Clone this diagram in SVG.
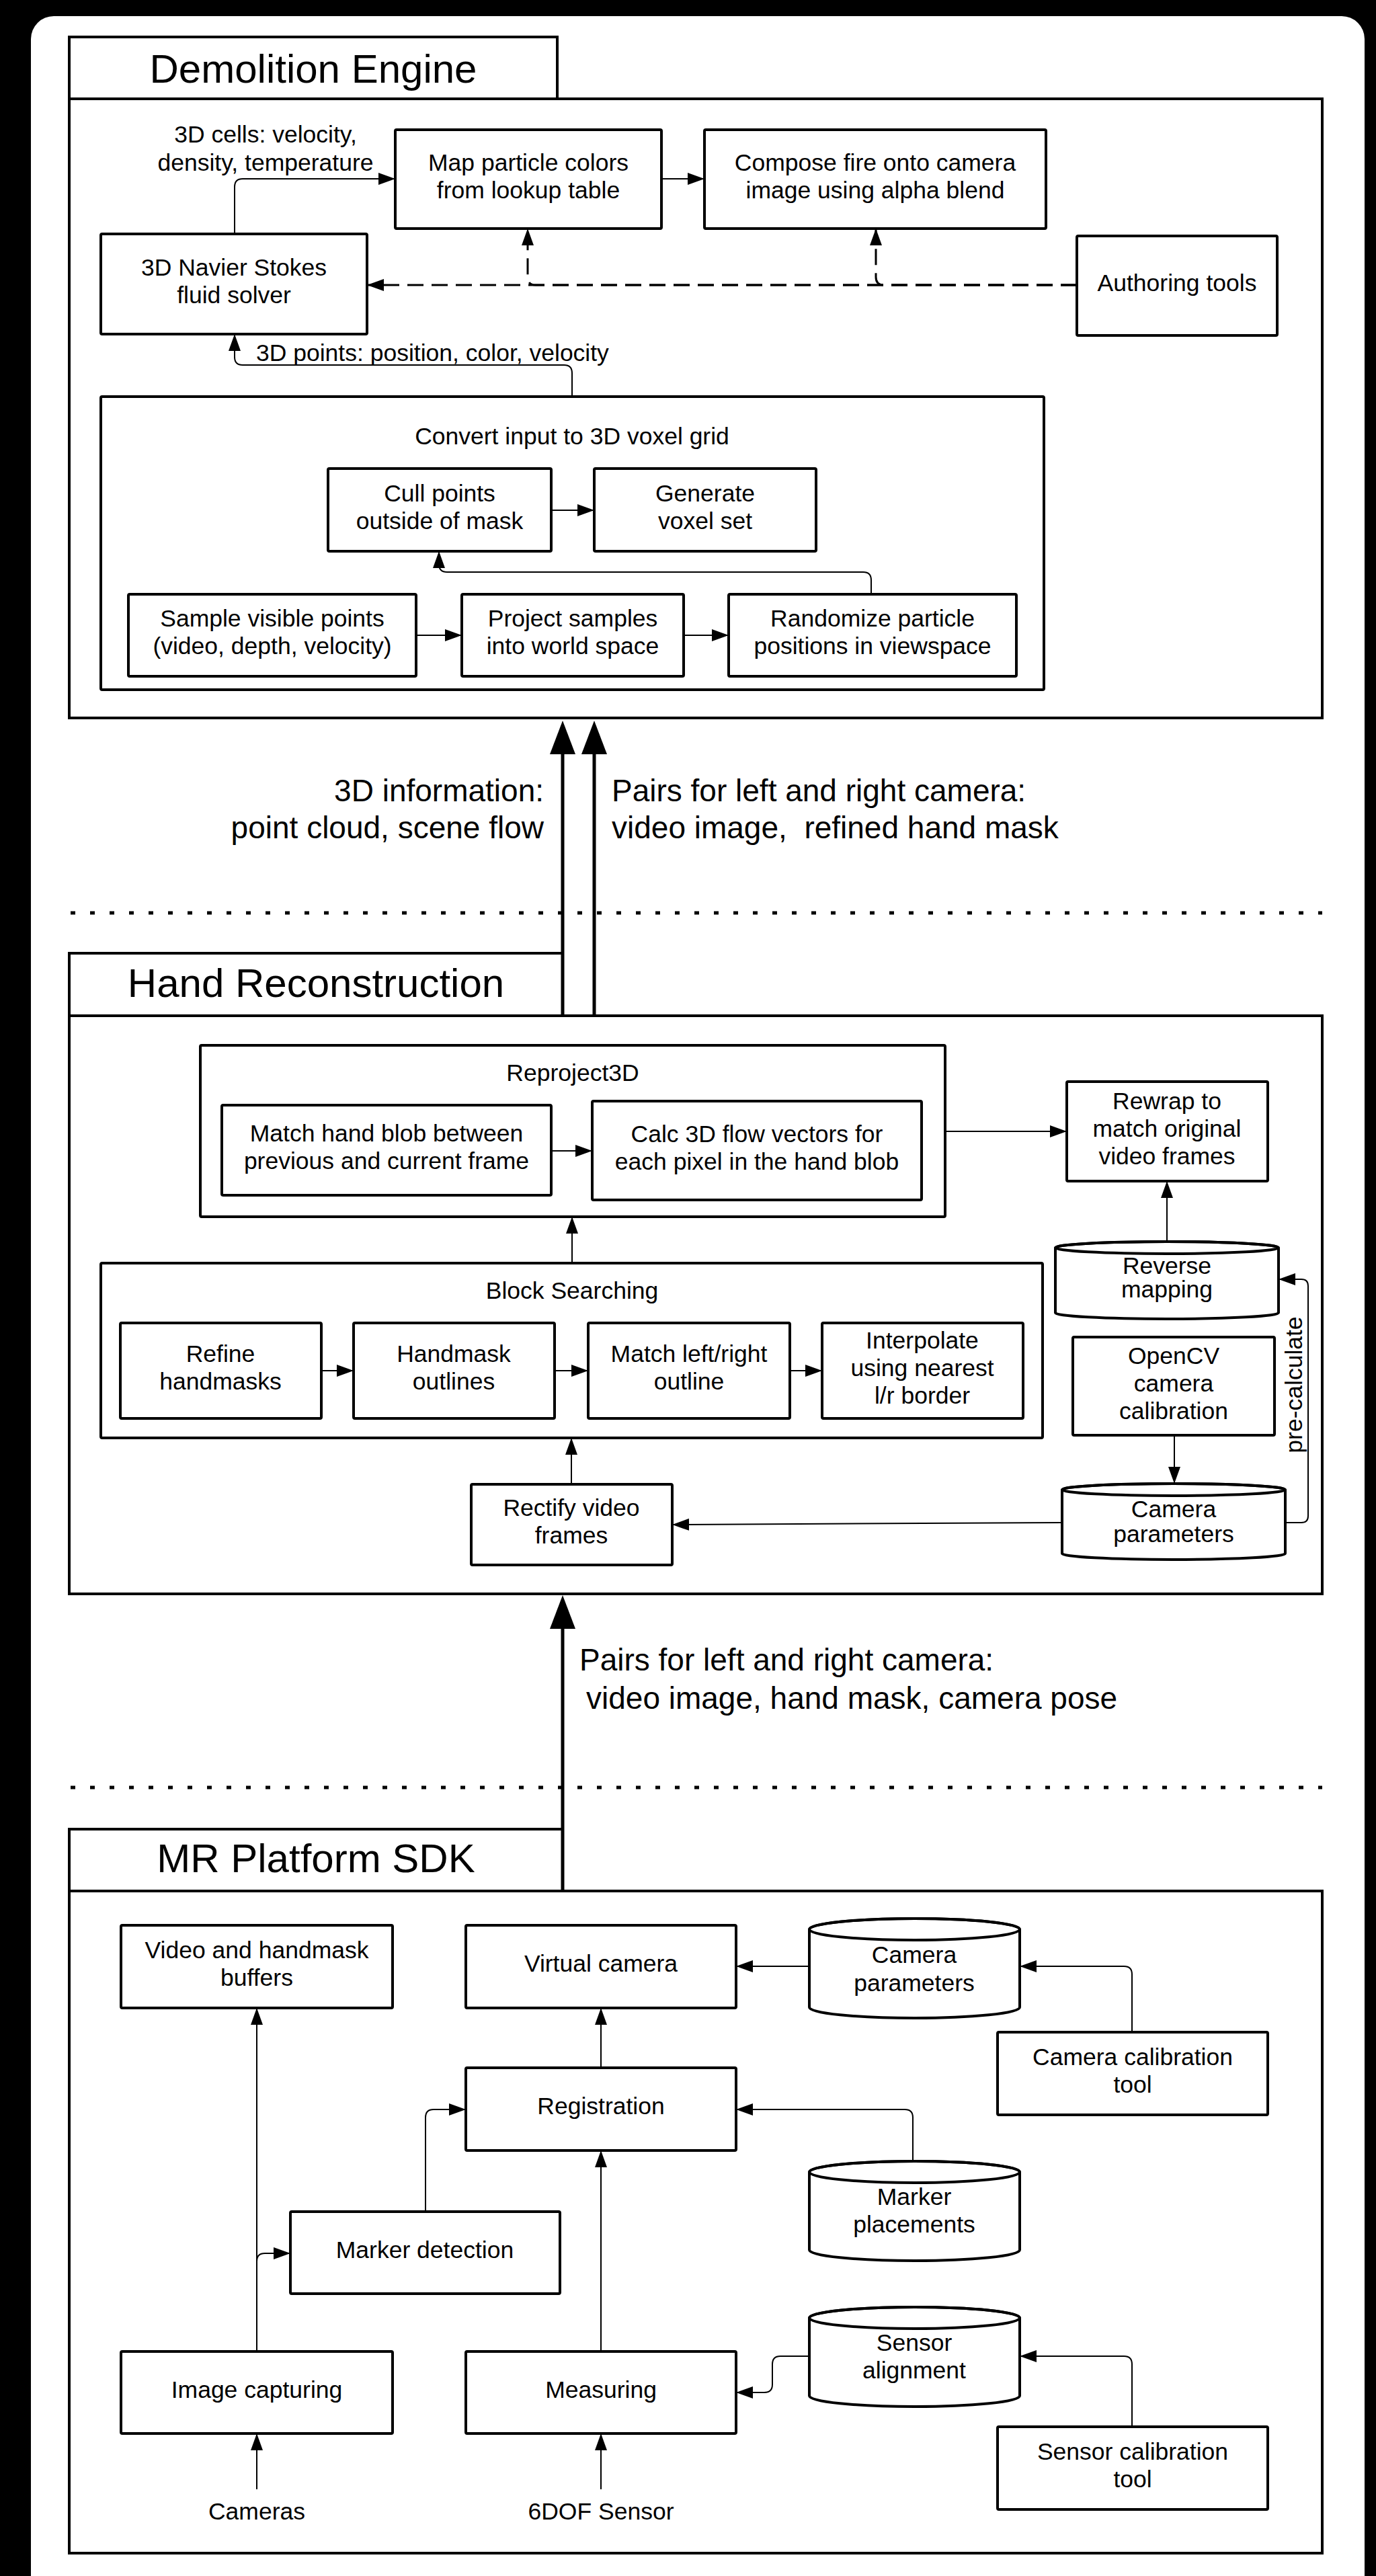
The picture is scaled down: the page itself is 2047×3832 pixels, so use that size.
<svg xmlns="http://www.w3.org/2000/svg" width="2047" height="3832" viewBox="0 0 2047 3832">
<defs>
<style>
.box{fill:#fff;stroke:#000;stroke-width:4}
.sec{fill:#fff;stroke:#000;stroke-width:4}
.t{font-family:"Liberation Sans",Arial,Helvetica,sans-serif;font-size:35.5px;text-anchor:middle;fill:#000}
.s{text-anchor:start}
.e{text-anchor:end}
.title{font-size:60px}
.lbl{font-size:46px}
.c{fill:none;stroke:#000;stroke-width:2}
.dash{stroke-dasharray:24 12;stroke-width:3}
.big{fill:none;stroke:#000;stroke-width:5}
.dot{fill:none;stroke:#000;stroke-width:5;stroke-dasharray:7 22}
</style>
<marker id="ah" markerWidth="25" markerHeight="18" refX="25" refY="9" orient="auto" markerUnits="userSpaceOnUse"><path d="M0,0 L25,9 L0,18 Z" fill="#000"/></marker>
<marker id="bh" markerWidth="50" markerHeight="38" refX="40" refY="19" orient="auto" markerUnits="userSpaceOnUse"><path d="M0,0 L50,19 L0,38 Z" fill="#000"/></marker>
</defs>
<rect x="0" y="0" width="2047" height="3832" fill="#000"/>
<rect x="46" y="24" width="1984" height="3900" rx="34" fill="#fff"/>

<!-- Sections -->
<g id="demolition-engine">
<rect class="sec" x="103" y="55" width="726" height="92"/>
<rect class="sec" x="103" y="147" width="1864" height="921"/>
<text class="t title" x="466" y="123">Demolition Engine</text>
</g>
<g id="hand-reconstruction">
<rect class="sec" x="103" y="1418" width="734" height="93"/>
<rect class="sec" x="103" y="1511" width="1864" height="860"/>
<text class="t title" x="470" y="1483">Hand Reconstruction</text>
</g>
<g id="mr-platform-sdk">
<rect class="sec" x="103" y="2721" width="734" height="92"/>
<rect class="sec" x="103" y="2813" width="1864" height="985"/>
<text class="t title" x="470" y="2785">MR Platform SDK</text>
</g>

<g id="separators">
<path class="dot" d="M105,1358 L1967,1358"/>
<path class="dot" d="M105,2659 L1967,2659"/>
</g>

<!-- Demolition nodes -->
<g id="map-colors"><rect class="box" x="588" y="193" width="396" height="147" rx="2"/><text class="t"><tspan x="786" y="254">Map particle colors</tspan><tspan x="786" y="295">from lookup table</tspan></text></g>
<g id="compose-fire"><rect class="box" x="1048" y="193" width="508" height="147" rx="2"/><text class="t"><tspan x="1302" y="254">Compose fire onto camera</tspan><tspan x="1302" y="295">image using alpha blend</tspan></text></g>
<g id="navier-stokes"><rect class="box" x="150" y="348" width="396" height="149" rx="2"/><text class="t"><tspan x="348" y="410">3D Navier Stokes</tspan><tspan x="348" y="451">fluid solver</tspan></text></g>
<g id="authoring-tools"><rect class="box" x="1602" y="351" width="298" height="148" rx="2"/><text class="t" x="1751" y="433">Authoring tools</text></g>
<g id="convert-voxel"><rect class="box" x="150" y="590" width="1403" height="436" rx="2"/><text class="t" x="851" y="661">Convert input to 3D voxel grid</text></g>
<g id="cull-points"><rect class="box" x="488" y="697" width="332" height="123" rx="2"/><text class="t"><tspan x="654" y="746">Cull points</tspan><tspan x="654" y="787">outside of mask</tspan></text></g>
<g id="generate-voxel"><rect class="box" x="884" y="697" width="330" height="123" rx="2"/><text class="t"><tspan x="1049" y="746">Generate</tspan><tspan x="1049" y="787">voxel set</tspan></text></g>
<g id="sample-points"><rect class="box" x="191" y="884" width="428" height="122" rx="2"/><text class="t"><tspan x="405" y="932">Sample visible points</tspan><tspan x="405" y="973">(video, depth, velocity)</tspan></text></g>
<g id="project-samples"><rect class="box" x="687" y="884" width="330" height="122" rx="2"/><text class="t"><tspan x="852" y="932">Project samples</tspan><tspan x="852" y="973">into world space</tspan></text></g>
<g id="randomize-particles"><rect class="box" x="1084" y="884" width="428" height="122" rx="2"/><text class="t"><tspan x="1298" y="932">Randomize particle</tspan><tspan x="1298" y="973">positions in viewspace</tspan></text></g>

<!-- Hand nodes -->
<g id="reproject3d"><rect class="box" x="298" y="1555" width="1108" height="255" rx="2"/><text class="t" x="852" y="1608">Reproject3D</text></g>
<g id="match-blob"><rect class="box" x="330" y="1644" width="490" height="134" rx="2"/><text class="t"><tspan x="575" y="1698">Match hand blob between</tspan><tspan x="575" y="1739">previous and current frame</tspan></text></g>
<g id="calc-flow"><rect class="box" x="881" y="1638" width="490" height="147" rx="2"/><text class="t"><tspan x="1126" y="1699">Calc 3D flow vectors for</tspan><tspan x="1126" y="1740">each pixel in the hand blob</tspan></text></g>
<g id="rewrap"><rect class="box" x="1587" y="1609" width="299" height="148" rx="2"/><text class="t"><tspan x="1736" y="1650">Rewrap to</tspan><tspan x="1736" y="1691">match original</tspan><tspan x="1736" y="1732">video frames</tspan></text></g>
<g id="reverse-mapping"><path class="box" d="M1570,1856 L1570,1953 A166,9 0 0 0 1902,1953 L1902,1856 A166,9 0 0 0 1570,1856 Z"/><ellipse cx="1736" cy="1856" rx="166" ry="9" fill="none" stroke="#000" stroke-width="4"/><text class="t"><tspan x="1736" y="1895">Reverse</tspan><tspan x="1736" y="1930">mapping</tspan></text></g>
<g id="block-searching"><rect class="box" x="150" y="1879" width="1401" height="260" rx="2"/><text class="t" x="851" y="1932">Block Searching</text></g>
<g id="refine-handmasks"><rect class="box" x="179" y="1968" width="299" height="142" rx="2"/><text class="t"><tspan x="328" y="2026">Refine</tspan><tspan x="328" y="2067">handmasks</tspan></text></g>
<g id="handmask-outlines"><rect class="box" x="526" y="1968" width="299" height="142" rx="2"/><text class="t"><tspan x="675" y="2026">Handmask</tspan><tspan x="675" y="2067">outlines</tspan></text></g>
<g id="match-outline"><rect class="box" x="875" y="1968" width="300" height="142" rx="2"/><text class="t"><tspan x="1025" y="2026">Match left/right</tspan><tspan x="1025" y="2067">outline</tspan></text></g>
<g id="interpolate"><rect class="box" x="1223" y="1968" width="299" height="142" rx="2"/><text class="t"><tspan x="1372" y="2006">Interpolate</tspan><tspan x="1372" y="2047">using nearest</tspan><tspan x="1372" y="2088">l/r border</tspan></text></g>
<g id="opencv-calibration"><rect class="box" x="1596" y="1989" width="300" height="146" rx="2"/><text class="t"><tspan x="1746" y="2029">OpenCV</tspan><tspan x="1746" y="2070">camera</tspan><tspan x="1746" y="2111">calibration</tspan></text></g>
<g id="hr-camera-parameters"><path class="box" d="M1580,2216 L1580,2311 A166,9 0 0 0 1912,2311 L1912,2216 A166,9 0 0 0 1580,2216 Z"/><ellipse cx="1746" cy="2216" rx="166" ry="9" fill="none" stroke="#000" stroke-width="4"/><text class="t"><tspan x="1746" y="2257">Camera</tspan><tspan x="1746" y="2294">parameters</tspan></text></g>
<g id="rectify-frames"><rect class="box" x="701" y="2208" width="299" height="120" rx="2"/><text class="t"><tspan x="850" y="2255">Rectify video</tspan><tspan x="850" y="2296">frames</tspan></text></g>

<!-- MR nodes -->
<g id="video-buffers"><rect class="box" x="180" y="2864" width="404" height="123" rx="2"/><text class="t"><tspan x="382" y="2913">Video and handmask</tspan><tspan x="382" y="2954">buffers</tspan></text></g>
<g id="virtual-camera"><rect class="box" x="693" y="2864" width="402" height="123" rx="2"/><text class="t" x="894" y="2933">Virtual camera</text></g>
<g id="mr-camera-parameters"><path class="box" d="M1204,2870 L1204,2986 A156.5,16 0 0 0 1517,2986 L1517,2870 A156.5,16 0 0 0 1204,2870 Z"/><ellipse cx="1360.5" cy="2870" rx="156.5" ry="16" fill="none" stroke="#000" stroke-width="4"/><text class="t"><tspan x="1360" y="2920">Camera</tspan><tspan x="1360" y="2962">parameters</tspan></text></g>
<g id="camera-calibration-tool"><rect class="box" x="1484" y="3023" width="402" height="123" rx="2"/><text class="t"><tspan x="1685" y="3072">Camera calibration</tspan><tspan x="1685" y="3113">tool</tspan></text></g>
<g id="registration"><rect class="box" x="693" y="3076" width="402" height="123" rx="2"/><text class="t" x="894" y="3145">Registration</text></g>
<g id="marker-placements"><path class="box" d="M1204,3231 L1204,3347 A156.5,16 0 0 0 1517,3347 L1517,3231 A156.5,16 0 0 0 1204,3231 Z"/><ellipse cx="1360.5" cy="3231" rx="156.5" ry="16" fill="none" stroke="#000" stroke-width="4"/><text class="t"><tspan x="1360" y="3280">Marker</tspan><tspan x="1360" y="3321">placements</tspan></text></g>
<g id="marker-detection"><rect class="box" x="432" y="3290" width="401" height="122" rx="2"/><text class="t" x="632" y="3359">Marker detection</text></g>
<g id="image-capturing"><rect class="box" x="180" y="3498" width="404" height="122" rx="2"/><text class="t" x="382" y="3567">Image capturing</text></g>
<g id="measuring"><rect class="box" x="693" y="3498" width="402" height="122" rx="2"/><text class="t" x="894" y="3567">Measuring</text></g>
<g id="sensor-alignment"><path class="box" d="M1204,3448 L1204,3564 A156.5,16 0 0 0 1517,3564 L1517,3448 A156.5,16 0 0 0 1204,3448 Z"/><ellipse cx="1360.5" cy="3448" rx="156.5" ry="16" fill="none" stroke="#000" stroke-width="4"/><text class="t"><tspan x="1360" y="3497">Sensor</tspan><tspan x="1360" y="3538">alignment</tspan></text></g>
<g id="sensor-calibration-tool"><rect class="box" x="1484" y="3610" width="402" height="123" rx="2"/><text class="t"><tspan x="1685" y="3659">Sensor calibration</tspan><tspan x="1685" y="3700">tool</tspan></text></g>
<g id="cameras"><text class="t" x="382" y="3748">Cameras</text></g>
<g id="sensor-6dof"><text class="t" x="894" y="3748">6DOF Sensor</text></g>

<!-- Connectors -->
<g id="connectors">
<path class="c" d="M349,348 L349,278 Q349,266 361,266 L588,266" marker-end="url(#ah)"/>
<path class="c" d="M984,266 L1048,266" marker-end="url(#ah)"/>
<path class="c dash" d="M1602,424 L546,424" marker-end="url(#ah)"/>
<path class="c dash" d="M1602,424 L797,424 Q785,424 785,412 L785,340" marker-end="url(#ah)"/>
<path class="c dash" d="M1602,424 L1315,424 Q1303,424 1303,412 L1303,340" marker-end="url(#ah)"/>
<path class="c" d="M851,590 L851,555 Q851,543 839,543 L361,543 Q349,543 349,531 L349,497" marker-end="url(#ah)"/>
<path class="c" d="M820,759 L884,759" marker-end="url(#ah)"/>
<path class="c" d="M619,945 L687,945" marker-end="url(#ah)"/>
<path class="c" d="M1017,945 L1084,945" marker-end="url(#ah)"/>
<path class="c" d="M1296,884 L1296,863 Q1296,851 1284,851 L665,851 Q653,851 653,839 L653,820" marker-end="url(#ah)"/>

<path class="big" d="M837,1511 L837,1082" marker-end="url(#bh)"/>
<path class="big" d="M884,1511 L884,1082" marker-end="url(#bh)"/>
<path class="big" d="M837,2813 L837,2383" marker-end="url(#bh)"/>

<path class="c" d="M820,1712 L881,1712" marker-end="url(#ah)"/>
<path class="c" d="M1406,1683 L1587,1683" marker-end="url(#ah)"/>
<path class="c" d="M1736,1847 L1736,1757" marker-end="url(#ah)"/>
<path class="c" d="M851,1879 L851,1810" marker-end="url(#ah)"/>
<path class="c" d="M478,2039 L526,2039" marker-end="url(#ah)"/>
<path class="c" d="M825,2039 L875,2039" marker-end="url(#ah)"/>
<path class="c" d="M1175,2039 L1223,2039" marker-end="url(#ah)"/>
<path class="c" d="M1747,2135 L1747,2207" marker-end="url(#ah)"/>
<path class="c" d="M1580,2265 L1000,2268" marker-end="url(#ah)"/>
<path class="c" d="M1912,2265 L1936,2265 Q1946,2265 1946,2255 L1946,1913 Q1946,1903 1936,1903 L1902,1903" marker-end="url(#ah)"/>
<path class="c" d="M850,2208 L850,2139" marker-end="url(#ah)"/>

<path class="c" d="M1204,2925 L1095,2925" marker-end="url(#ah)"/>
<path class="c" d="M1684,3023 L1684,2937 Q1684,2925 1672,2925 L1517,2925" marker-end="url(#ah)"/>
<path class="c" d="M894,3076 L894,2987" marker-end="url(#ah)"/>
<path class="c" d="M1358,3215 L1358,3150 Q1358,3138 1346,3138 L1095,3138" marker-end="url(#ah)"/>
<path class="c" d="M633,3290 L633,3150 Q633,3138 645,3138 L693,3138" marker-end="url(#ah)"/>
<path class="c" d="M382,3498 L382,2987" marker-end="url(#ah)"/>
<path class="c" d="M382,3498 L382,3364 Q382,3352 394,3352 L432,3352" marker-end="url(#ah)"/>
<path class="c" d="M894,3498 L894,3199" marker-end="url(#ah)"/>
<path class="c" d="M1204,3505 L1161,3505 Q1149,3505 1149,3517 L1149,3547 Q1149,3559 1137,3559 L1095,3559" marker-end="url(#ah)"/>
<path class="c" d="M1684,3610 L1684,3517 Q1684,3505 1672,3505 L1517,3505" marker-end="url(#ah)"/>
<path class="c" d="M382,3703 L382,3620" marker-end="url(#ah)"/>
<path class="c" d="M894,3703 L894,3620" marker-end="url(#ah)"/>
</g>

<!-- Connector labels -->
<g id="labels">
<text class="t"><tspan x="395" y="212">3D cells: velocity,</tspan><tspan x="395" y="254">density, temperature</tspan></text>
<text class="t s" x="381" y="537">3D points: position, color, velocity</text>
<text class="t lbl e"><tspan x="809" y="1192">3D information:</tspan><tspan x="809" y="1247">point cloud, scene flow</tspan></text>
<text class="t lbl s" xml:space="preserve"><tspan x="910" y="1192">Pairs for left and right camera:</tspan><tspan x="910" y="1247">video image,  refined hand mask</tspan></text>
<text class="t lbl s"><tspan x="862" y="2485">Pairs for left and right camera:</tspan><tspan x="872" y="2542">video image, hand mask, camera pose</tspan></text>
<text class="t" transform="translate(1937,2060) rotate(-90)" x="0" y="0">pre-calculate</text>
</g>
</svg>
